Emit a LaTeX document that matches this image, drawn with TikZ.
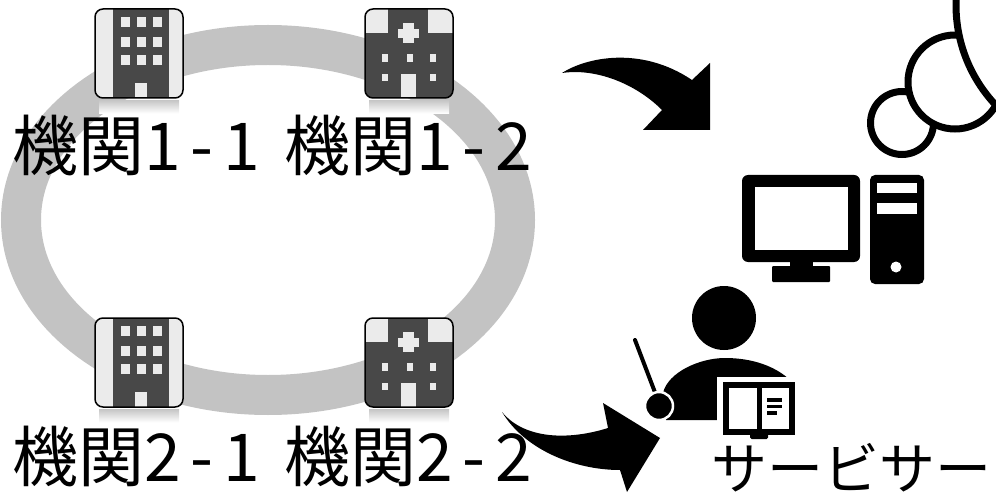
\documentclass[tikz,border=0pt]{standalone}
\usepackage{fontspec}
\newfontfamily\jpfont{Noto Sans CJK JP}
\newfontfamily\jpwide[LetterSpace=15]{Noto Sans CJK JP}
\usetikzlibrary{positioning}
\definecolor{ringgray}{HTML}{C3C3C3}
\definecolor{iconlight}{HTML}{EBEBEB}
\definecolor{icondark}{HTML}{484848}
\newcommand{\orgname}[2]{{\jpfont #1}{\jpwide #2}}
\tikzstyle{orglabel}=[font=\fontsize{66}{66}\selectfont, inner sep=0pt, anchor=base]
\tikzstyle{iconframe}=[draw=black, line width=1.5pt, rounded corners=8pt]
\tikzstyle{cloud}=[draw=black, fill=white, line width=7pt]
\tikzset{
  mirror/.style={top color=black!22, bottom color=white, draw=none},
  office/.pic={
    \begin{scope}
      \clip[rounded corners=8pt] (-44,-44.5) rectangle (44,44.5);
      \fill[iconlight] (-44,-44.5) rectangle (44,44.5);
      \fill[icondark] (-26,-44.5) rectangle (30,44.5);
      \foreach \wx in {-18,-2,14}
        \foreach \wy in {-36.5,-16.5,1.5}
          \fill[iconlight] (\wx,\wy) rectangle ++(8.5,10);
      \fill[iconlight] (-4,29.5) rectangle (8,44.5);
    \end{scope}
    \draw[iconframe] (-44,-44.5) rectangle (44,44.5);
    \shade[mirror] (-40,47) rectangle (40,60);
  },
  hospital/.pic={
    \begin{scope}
      \clip[rounded corners=8pt] (-44,-44.5) rectangle (44,44.5);
      \fill[icondark] (-44,-44.5) rectangle (44,44.5);
      \fill[iconlight] (-44,-44.5) rectangle (-21,-20.5);
      \fill[iconlight] (19,-44.5) rectangle (44,-20.5);
      \fill[iconlight] (-6,-30.5) rectangle (5,-10.5);
      \fill[iconlight] (-11,-24.5) rectangle (10,-15.5);
      \foreach \wx in {-27,-2,21}
        \fill[iconlight] (\wx,0.5) rectangle ++(6,8);
      \foreach \wx in {-27,21}
        \fill[iconlight] (\wx,20.5) rectangle ++(6,7);
      \fill[iconlight] (-8,20.5) rectangle (7,44.5);
    \end{scope}
    \draw[iconframe] (-44,-44.5) rectangle (44,44.5);
    \shade[mirror] (-40,47) rectangle (40,60);
  },
}

\begin{document}
\begin{tikzpicture}[x=1pt, y=-1pt]
  \useasboundingbox (0,0) rectangle (996,497);
  \clip (0,0) rectangle (996,497);

  \draw[ringgray, line width=40pt] (268,220) ellipse [x radius=247pt, y radius=175pt];

  \coordinate (org11) at (139,53.5);
  \coordinate (org12) at (409,53.5);
  \coordinate (org21) at (139,362.5);
  \coordinate (org22) at (409,362.5);
  \pic at (org11) {office};
  \pic at (org12) {hospital};
  \pic at (org21) {office};
  \pic at (org22) {hospital};

  \node[orglabel] (lab11) at (136,171) {\orgname{機関}{1-1}};
  \node[orglabel] (lab12) at (408,171) {\orgname{機関}{1-2}};
  \node[orglabel] (lab21) at (136,481) {\orgname{機関}{2-1}};
  \node[orglabel] (lab22) at (408,481) {\orgname{機関}{2-2}};

  \fill (562,73) .. controls (585,58) and (640,45) .. (692,80) -- (710,63)
    -- (710,130) -- (643,130) -- (662,110) .. controls (635,83) and (595,68) .. cycle;
  \fill (502,412) .. controls (525,440) and (570,440) .. (608,428) -- (603,403)
    -- (660,438) -- (627,492) -- (620,470) .. controls (575,470) and (525,450) .. cycle;

  \draw[cloud] (902,123) circle [radius=31.5pt];
  \draw[cloud] (955,82) circle [radius=47pt];
  \draw[cloud] (1102,5) circle [radius=146pt];

  \fill[rounded corners=6pt] (742,175) rectangle (860,262);
  \fill[white] (755,187) rectangle (848,250);
  \fill (790,260) rectangle (813,270);
  \fill[rounded corners=1pt] (772,266) rectangle (830,282);
  \fill[rounded corners=5pt] (870,175) rectangle (924,284);
  \fill[white] (877,183) rectangle (917,193);
  \fill[white] (877,203) rectangle (917,214);
  \fill[white] (896,267) circle [radius=5.5pt];

  \fill (724,318) circle [radius=32pt];
  \fill (666,420) -- (663,393) .. controls (668,372) and (700,358) .. (725,358)
    .. controls (752,358) and (775,366) .. (790,380) -- (790,420) -- cycle;
  \draw[line width=4pt, line cap=round] (635,340) -- (656,395);
  \draw[white, fill=black, line width=2.5pt] (659,406) circle [radius=14pt];
  \fill[white] (717,377) rectangle (801,438);
  \draw[line width=6pt] (726,385) rectangle (792,432);
  \fill (757,385) rectangle (762,432);
  \fill (767,398) rectangle (782,401.5);
  \fill (767,404.5) rectangle (782,408);
  \fill (767,411) rectangle (777,414.5);
  \fill[rounded corners=1.5pt] (750,432) rectangle (768,439);

  \node[font=\jpfont\fontsize{56}{56}\selectfont, inner sep=0pt, anchor=base west]
    (servicer) at (711,489) {サービサー};
\end{tikzpicture}
\end{document}
